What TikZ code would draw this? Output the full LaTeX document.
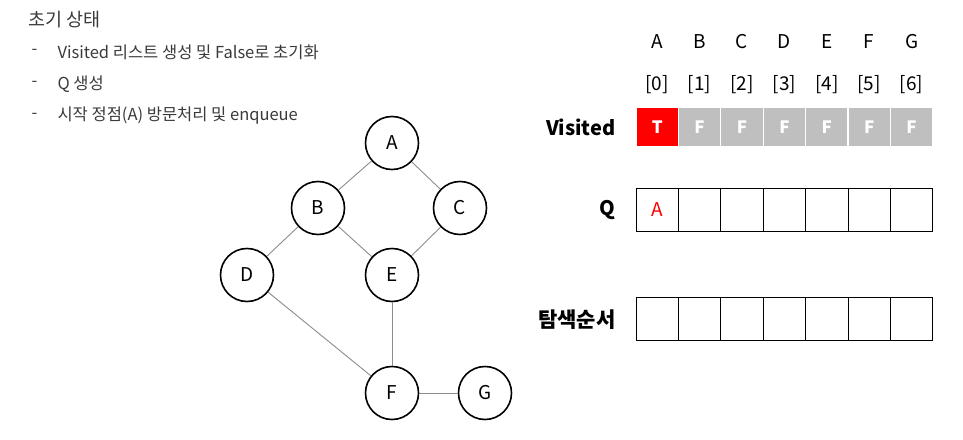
\documentclass[tikz,border=0pt]{standalone}
\usepackage{fontspec}
\setmainfont{Noto Sans CJK KR}
\usepackage{tikz}
\usetikzlibrary{positioning}
\definecolor{visitred}{HTML}{FF0000}
\definecolor{cellgray}{HTML}{BFBFBF}
\definecolor{edgegray}{HTML}{8C8C8C}
\definecolor{notegray}{HTML}{3A3A3A}

\begin{document}
\begin{tikzpicture}[x=1pt,y=-1pt,
  vert/.style={circle,draw,line width=1.6pt,minimum size=53pt,inner sep=0pt,font=\fontsize{19}{19}\selectfont},
  edge/.style={edgegray,line width=0.9pt},
  cell/.style={draw,line width=1pt,minimum width=42.4pt,minimum height=43pt,inner sep=0pt,font=\fontsize{19}{19}\selectfont},
  vcell/.style={draw=white,line width=1.2pt,fill=cellgray,text=white,minimum width=42.4pt,minimum height=40pt,inner sep=0pt,font=\bfseries\fontsize{17}{17}\selectfont},
  head/.style={font=\fontsize{19}{19}\selectfont},
  rowlabel/.style={anchor=east,font=\bfseries\fontsize{20}{20}\selectfont},
  note/.style={anchor=west,text=notegray,font=\fontsize{16.5}{16.5}\selectfont}]
  \useasboundingbox (0,0) rectangle (963,439);
  % notes
  \node[note,font=\fontsize{18.5}{18.5}\selectfont] (title) at (25,20) {초기 상태};
  \foreach \y/\t in {52/Visited 리스트 생성 및 False로 초기화,84/Q 생성,116/시작 정점(A) 방문처리 및 enqueue}{
    \node[note] (dash\y) at (28,\y) {-};
    \node[note] (line\y) at (54,\y) {\t};
  }
  % graph
  \node[vert] (A) at (392,143) {A};
  \node[vert] (B) at (318,208) {B};
  \node[vert] (C) at (460,208) {C};
  \node[vert] (D) at (247,275) {D};
  \node[vert] (E) at (392,275) {E};
  \node[vert] (F) at (392,393) {F};
  \node[vert] (G) at (485,393) {G};
  \draw[edge] (A)--(B);
  \draw[edge] (A)--(C);
  \draw[edge] (B)--(D);
  \draw[edge] (B)--(E);
  \draw[edge] (C)--(E);
  \draw[edge] (D)--(F);
  \draw[edge] (E)--(F);
  \draw[edge] (F)--(G);
  % table
  \foreach \i/\l in {0/A,1/B,2/C,3/D,4/E,5/F,6/G}{
    \node[head] (h\i) at ({657.2+42.4*\i},42) {\l};
    \node[head] (ix\i) at ({657.2+42.4*\i},85) {[\i]};
  }
  \node[vcell,fill=visitred] (v0) at (657.2,127) {T};
  \foreach \i in {1,...,6}{\node[vcell] (v\i) at ({657.2+42.4*\i},127) {F};}
  \node[cell,text=visitred] (q0) at (657.2,209.5) {A};
  \foreach \i in {1,...,6}{\node[cell] (q\i) at ({657.2+42.4*\i},209.5) {};}
  \foreach \i in {0,...,6}{\node[cell] (s\i) at ({657.2+42.4*\i},319) {};}
  \node[rowlabel] (visited) at (619,127) {Visited};
  \node[rowlabel] (queue) at (619,210) {Q};
  \node[rowlabel,font=\bfseries\fontsize{21}{21}\selectfont] (order) at (619,320) {탐색순서};
\end{tikzpicture}
\end{document}
